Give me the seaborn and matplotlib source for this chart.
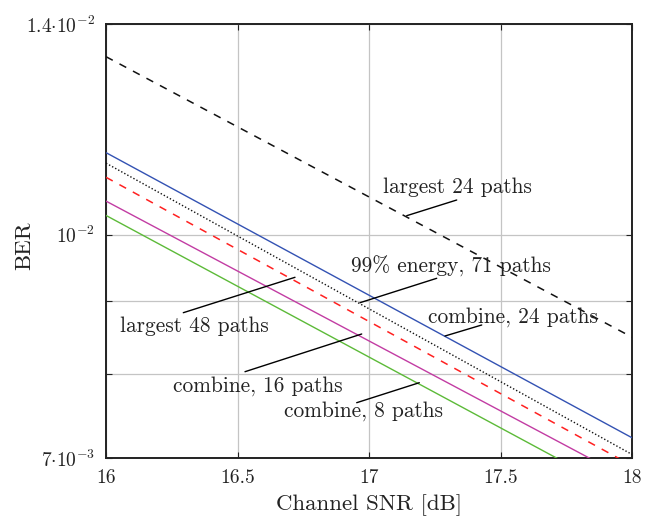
import numpy as np
import pandas as pd
import matplotlib
matplotlib.use("Agg")
import matplotlib.pyplot as plt
import seaborn as sns

# ---- data ----
snr = [16.0, 18.0]
ber_combine24 = [1.140e-2, 7.23e-3]
ber_energy99 = [1.121e-2, 7.04e-3]
ber_largest48 = [1.096e-2, 6.915e-3]
ber_combine16 = [1.0551e-2, 6.75e-3]
ber_combine8 = [1.0312e-2, 6.56e-3]
ber_largest24 = [1.3288e-2, 8.49e-3]

series_names = ["combine, 24 paths", "99% energy, 71 paths", "largest 48 paths",
                "combine, 16 paths", "combine, 8 paths", "largest 24 paths"]
series_vals = [ber_combine24, ber_energy99, ber_largest48,
               ber_combine16, ber_combine8, ber_largest24]

xticks = [16, 16.5, 17, 17.5, 18]
xticklabels = ["16", "16.5", "17", "17.5", "18"]
yticks = [7e-3, 1e-2, 1.4e-2]
yticklabels = [r"$7{\cdot}10^{-3}$", r"$10^{-2}$", r"$1.4{\cdot}10^{-2}$"]
yminor = [8e-3, 9e-3]

sns.set_theme(style="white")
plt.rcParams["mathtext.fontset"] = "cm"
plt.rcParams["font.family"] = ["cmr10", "DejaVu Serif"]
plt.rcParams["axes.unicode_minus"] = False

styles = {
    "combine, 24 paths": dict(color="#3352b3", ls="-", lw=1.0),
    "99% energy, 71 paths": dict(color="#111111", ls=(0, (1, 1.5)), lw=1.0),
    "largest 48 paths": dict(color="#ff2020", ls=(0, (5, 5)), lw=1.1),
    "combine, 16 paths": dict(color="#c23ca3", ls="-", lw=1.0),
    "combine, 8 paths": dict(color="#5cba38", ls="-", lw=1.0),
    "largest 24 paths": dict(color="#111111", ls=(0, (5, 5)), lw=1.1),
}

rows = []
for name, vals in zip(series_names, series_vals):
    for x, v in zip(snr, vals):
        rows.append(dict(series=name, snr=x, ber=v))
df = pd.DataFrame(rows)

fig = plt.figure(figsize=(6.59, 5.17), dpi=100)
ax = fig.add_axes([106/659, 1-458/517, 526/659, 434/517])
ax.set_yscale("log")

for name in series_names:
    st = styles[name]
    sns.lineplot(data=df[df.series == name], x="snr", y="ber", ax=ax,
                 color=st["color"], linestyle=st["ls"], linewidth=st["lw"],
                 legend=False, zorder=3)

ax.set_xlim(16, 18)
ax.set_ylim(7e-3, 1.4e-2)
ax.set_xticks(xticks)
ax.set_xticklabels(xticklabels)
ax.set_yticks(yticks)
ax.set_yticklabels(yticklabels)
ax.set_yticks(yminor, minor=True)
ax.yaxis.set_minor_formatter(matplotlib.ticker.NullFormatter())
ax.tick_params(axis="both", which="both", direction="in", length=4, width=0.8,
               labelsize=14, colors="#222222", pad=8)
ax.tick_params(axis="both", which="both", top=True, right=True, bottom=True, left=True)
ax.grid(True, which="both", color="#c4c4c4", linewidth=0.9, zorder=0)
ax.set_axisbelow(True)
for s in ax.spines.values():
    s.set_color("#222222")
    s.set_linewidth(1.4)

ax.set_xlabel("Channel SNR [dB]", fontsize=16.5, color="#222222", labelpad=5)
ax.set_ylabel("BER", fontsize=16.5, color="#222222")
ax.yaxis.set_label_coords(-0.137, 0.49)


def fx(px):
    return (px - 106) / 526


def fy(py):
    return (458 - py) / 434


annots = [
    ("largest 24 paths", (457, 187), (406.7, 215.7), (456.7, 200)),
    ("99% energy, 71 paths", (451, 266), (360, 302.7), (436.7, 278.3)),
    ("combine, 24 paths", (513, 317), (445, 336), (481.7, 325)),
    ("largest 48 paths", (194, 326), (295, 277.3), (183.3, 312.7)),
    ("combine, 16 paths", (258, 386), (361.7, 334), (245, 371.7)),
    ("combine, 8 paths", (364, 411), (419.3, 382.7), (356.7, 402.7)),
]
for text, tpos, p1, p2 in annots:
    ax.plot([fx(p1[0]), fx(p2[0])], [fy(p1[1]), fy(p2[1])], transform=ax.transAxes,
            color="black", lw=1.0, zorder=4, clip_on=False)
    ax.text(fx(tpos[0]), fy(tpos[1]), text, transform=ax.transAxes, ha="center",
            va="center", fontsize=15.4, color="#222222", zorder=5)

fig.savefig("out.png", dpi=100)
